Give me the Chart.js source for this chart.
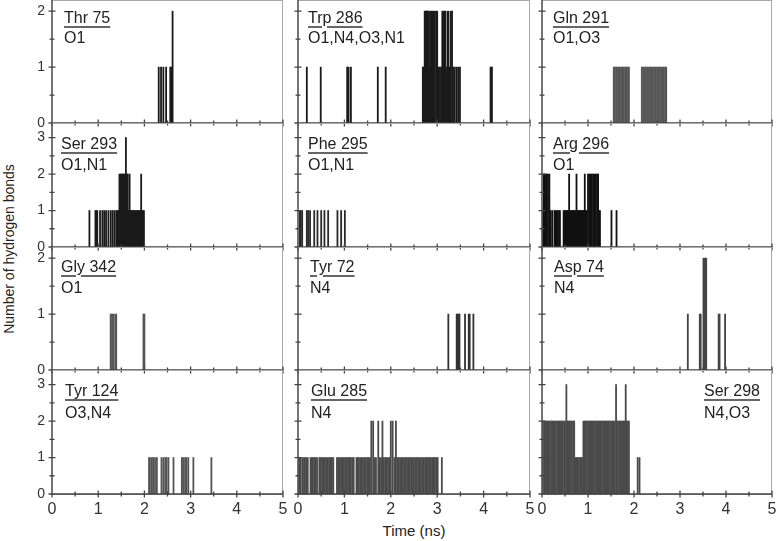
<!DOCTYPE html>
<html>
<head>
<meta charset="utf-8">
<script src="https://cdn.jsdelivr.net/npm/chart.js@4.4.1/dist/chart.umd.min.js"></script>
<style>
    body { margin: 0; background: #fff; width: 777px; height: 541px; position: relative; overflow: hidden;
           font-family: "Liberation Sans", Arial, sans-serif; color: #222; }
    canvas { position: absolute; }
    .lbl { position: absolute; font-size: 16px; line-height: 20px; white-space: nowrap; color: #222; }
    .lbl u { text-decoration-color: #666; text-decoration-thickness: 1.5px; text-underline-offset: 3px; }
    #ytitle { position: absolute; left: 9px; top: 249px; transform: translate(-50%, -50%) rotate(-90deg);
              font-size: 14px; white-space: nowrap; }
    #xtitle { position: absolute; left: 414px; top: 530px; transform: translate(-50%, -50%);
              font-size: 15px; white-space: nowrap; }
</style>
</head>
<body>
<div id="ytitle">Number of hydrogen bonds</div>
<div id="xtitle">Time (ns)</div>
<script>
// ===== DATA (times in ns at which the residue holds 1 / 2 / 3 H-bonds) =====
const timeTicks = [0, 1, 2, 3, 4, 5];

const thr75One = [2.31, 2.36, 2.41, 2.47, 2.56, 2.58];
const thr75Two = [2.61];

const trp286One = [0.19, 0.49, 1.06, 1.09, 1.14, 1.72, 1.89, 2.69, 2.71, 2.83, 2.88, 2.93, 3.03, 3.06, 3.09,
                   3.19, 3.26, 3.34, 3.37, 3.41, 3.45, 3.49, 4.15, 4.18];
const trp286Two = [2.73, 2.75, 2.76, 2.78, 2.80, 2.82, 2.85, 2.87, 2.90, 2.92, 2.95, 2.98, 3.00, 3.11, 3.13,
                   3.15, 3.17, 3.22, 3.24, 3.29, 3.32];

const gln291One = [1.56, 1.58, 1.61, 1.63, 1.66, 1.69, 1.72, 1.75, 1.78, 1.81, 1.84, 1.87, 1.89,
                   2.17, 2.20, 2.23, 2.26, 2.29, 2.32, 2.35, 2.38, 2.41, 2.44, 2.47, 2.50, 2.53, 2.56,
                   2.59, 2.62, 2.65, 2.68, 2.70];

const ser293One = [0.81, 0.94, 0.96, 0.98, 1.04, 1.09, 1.13, 1.17, 1.22, 1.27, 1.31, 1.35, 1.39, 1.42, 1.44,
                   1.66, 1.70, 1.72, 1.74, 1.76, 1.78, 1.80, 1.83, 1.85, 1.87, 1.89, 1.91, 1.95, 1.97, 1.99];
const ser293Two = [1.46, 1.49, 1.51, 1.53, 1.55, 1.57, 1.62, 1.64, 1.68, 1.93];
const ser293Three = [1.60];

const phe295One = [0.04, 0.06, 0.09, 0.19, 0.22, 0.26, 0.35, 0.42, 0.50, 0.57, 0.65, 0.85, 0.93, 1.01];

const arg296One = [0.02, 0.18, 0.22, 0.27, 0.29, 0.32, 0.34, 0.37, 0.39, 0.47, 0.49, 0.51, 0.53, 0.55, 0.57,
                   0.61, 0.63, 0.65, 0.67, 0.69, 0.71, 0.73, 0.77, 0.79, 0.81, 0.83, 0.85, 0.87, 0.89, 0.91,
                   0.95, 0.97, 1.24, 1.26, 1.51, 1.62];
const arg296Two = [0.04, 0.06, 0.08, 0.10, 0.13, 0.16, 0.59, 0.75, 0.93, 1.00, 1.03, 1.05, 1.08, 1.11, 1.14,
                   1.17, 1.20, 1.22];

const gly342One = [1.27, 1.30, 1.33, 1.37, 1.39, 1.98, 2.00];

const tyr72One = [3.24, 3.42, 3.44, 3.46, 3.48, 3.60, 3.68, 3.70, 3.78];

const asp74One = [3.17, 3.43, 3.45, 3.84, 3.86, 3.98];
const asp74Two = [3.51, 3.53, 3.55, 3.57];

const tyr124One = [2.10, 2.12, 2.16, 2.19, 2.23, 2.27, 2.37, 2.41, 2.45, 2.48, 2.52, 2.63, 2.81, 2.84, 2.88,
                   2.91, 2.95, 3.06, 3.45];

const glu285One = [0.01, 0.04, 0.06, 0.10, 0.13, 0.15, 0.18, 0.21, 0.27, 0.30, 0.32, 0.35, 0.38, 0.41, 0.46,
                   0.49, 0.52, 0.55, 0.58, 0.61, 0.64, 0.67, 0.70, 0.73, 0.76, 0.84, 0.87, 0.90, 0.93, 0.96,
                   0.99, 1.02, 1.05, 1.08, 1.11, 1.14, 1.17, 1.20, 1.26, 1.28, 1.31, 1.34, 1.37, 1.40, 1.43,
                   1.46, 1.49, 1.52, 1.55, 1.65, 1.68, 1.76, 1.79, 1.85, 1.88, 1.91, 1.94, 1.97, 2.08, 2.14,
                   2.17, 2.20, 2.23, 2.26, 2.29, 2.32, 2.35, 2.38, 2.41, 2.44, 2.47, 2.50, 2.53, 2.56, 2.59,
                   2.62, 2.65, 2.68, 2.71, 2.74, 2.77, 2.80, 2.83, 2.86, 2.89, 2.92, 2.95, 2.98, 3.01, 3.10];
const glu285Two = [1.58, 1.62, 1.73, 1.82, 2.00, 2.04, 2.11];

const ser298One = [0.73, 0.75, 0.78, 0.80, 0.83, 0.85, 0.87, 2.08, 2.12];
const ser298Two = [0.02, 0.05, 0.07, 0.10, 0.12, 0.15, 0.17, 0.20, 0.22, 0.25, 0.27, 0.30, 0.33, 0.35, 0.38,
                   0.40, 0.43, 0.45, 0.48, 0.50, 0.55, 0.58, 0.60, 0.63, 0.65, 0.68, 0.70, 0.90, 0.93, 0.95,
                   0.98, 1.00, 1.03, 1.05, 1.08, 1.10, 1.13, 1.15, 1.18, 1.20, 1.23, 1.25, 1.28, 1.30, 1.33,
                   1.35, 1.38, 1.40, 1.43, 1.45, 1.48, 1.50, 1.53, 1.55, 1.58, 1.63, 1.65, 1.68, 1.70, 1.73,
                   1.75, 1.78, 1.80, 1.84, 1.86, 1.89];
const ser298Three = [0.53, 1.61, 1.82];

// ===== LAYOUT =====
const colX = [[52, 283], [298, 530], [542, 772]];
const rowY = [[0, 123], [123, 247], [247, 370], [370, 494]];
const rowMax = [2.2, 3.4, 2.2, 3.4];
const titleBase = [23.5, 26, 25, 26.7];
const atomBase = [44, 47.5, 46.5, 48.5];
const M = { l: 45, t: 8, r: 8, b: 34 };

const panels = [
    { res: "Thr 75",  atoms: "O1",          row: 0, col: 0, dx: 12, ink: "#1a1a1a", hits: [thr75One, thr75Two] },
    { res: "Trp 286", atoms: "O1,N4,O3,N1", row: 0, col: 1, dx: 10, ink: "#1a1a1a", hits: [trp286One, trp286Two] },
    { res: "Gln 291", atoms: "O1,O3",       row: 0, col: 2, dx: 11, ink: "#555",    hits: [gln291One] },
    { res: "Ser 293", atoms: "O1,N1",       row: 1, col: 0, dx: 9,  ink: "#1a1a1a", hits: [ser293One, ser293Two, ser293Three] },
    { res: "Phe 295", atoms: "O1,N1",       row: 1, col: 1, dx: 10, ink: "#2a2a2a", hits: [phe295One] },
    { res: "Arg 296", atoms: "O1",          row: 1, col: 2, dx: 11, ink: "#111",    hits: [arg296One, arg296Two] },
    { res: "Gly 342", atoms: "O1",          row: 2, col: 0, dx: 9,  ink: "#555",    hits: [gly342One] },
    { res: "Tyr 72",  atoms: "N4",          row: 2, col: 1, dx: 12, ink: "#333",    hits: [tyr72One] },
    { res: "Asp 74",  atoms: "N4",          row: 2, col: 2, dx: 12, ink: "#444",    hits: [asp74One, asp74Two] },
    { res: "Tyr 124", atoms: "O3,N4",       row: 3, col: 0, dx: 13, ink: "#555",    hits: [tyr124One] },
    { res: "Glu 285", atoms: "N4",          row: 3, col: 1, dx: 13, ink: "#4a4a4a", hits: [glu285One, glu285Two] },
    { res: "Ser 298", atoms: "N4,O3",       row: 3, col: 2, dx: -12, ink: "#4a4a4a", hits: [ser298One, ser298Two, ser298Three], right: true }
];

// ===== AXES / FRAME =====
const panelAxes = {
    id: "panelAxes",
    afterDatasetsDraw(chart) {
        const { ctx, chartArea: a, scales: { x, y } } = chart;
        ctx.save();
        ctx.strokeStyle = "#a9a9a9";
        ctx.lineWidth = 1;
        ctx.strokeRect(a.left, a.top + 0.5, a.right - a.left - 0.5, a.bottom - a.top);

        ctx.strokeStyle = "#444";
        ctx.lineWidth = 1.3;
        ctx.beginPath();
        ctx.moveTo(a.left, a.top);
        ctx.lineTo(a.left, a.bottom);
        ctx.lineTo(a.right, a.bottom);
        for (let v = 0; v <= 5.001; v += 0.5) {
            const px = x.getPixelForValue(v);
            const len = Math.abs(v % 1) < 0.01 ? 3.5 : 2.5;
            ctx.moveTo(px, a.bottom - len);
            ctx.lineTo(px, a.bottom + len);
        }
        for (let v = 0; v <= y.max + 0.001; v += 0.5) {
            const py = y.getPixelForValue(v);
            const len = Math.abs(v % 1) < 0.01 ? 3.5 : 2.5;
            ctx.moveTo(a.left - len, py);
            ctx.lineTo(a.left + len, py);
        }
        ctx.stroke();
        ctx.restore();
    }
};

// ===== BUILD PANELS =====
panels.forEach(p => {
    const [x0, x1] = colX[p.col];
    const [y0, y1] = rowY[p.row];

    const cv = document.createElement("canvas");
    cv.width = (x1 - x0) + M.l + M.r;
    cv.height = (y1 - y0) + M.t + M.b;
    cv.style.left = (x0 - M.l) + "px";
    cv.style.top = (y0 - M.t) + "px";
    document.body.appendChild(cv);

    const points = [];
    p.hits.forEach((times, i) => times.forEach(t => points.push({ x: t, y: i + 1 })));

    new Chart(cv, {
        type: "bar",
        data: {
            datasets: [{
                data: points,
                backgroundColor: p.ink,
                borderWidth: 0,
                barThickness: 1.15
            }]
        },
        options: {
            responsive: false,
            animation: false,
            devicePixelRatio: 1,
            layout: { padding: { left: 0, top: M.t, right: M.r, bottom: 0 } },
            plugins: { legend: { display: false }, tooltip: { enabled: false } },
            scales: {
                x: {
                    type: "linear", min: 0, max: 5, offset: false,
                    grid: { display: false, drawTicks: false },
                    border: { display: false },
                    afterBuildTicks: s => { s.ticks = timeTicks.map(v => ({ value: v })); },
                    ticks: { display: p.row === 3, padding: 6, color: "#333",
                             font: { size: 16, family: "'Liberation Sans', Arial, sans-serif" } },
                    afterFit: s => { s.height = M.b; s.paddingLeft = 0; s.paddingRight = 0; }
                },
                y: {
                    min: 0, max: rowMax[p.row],
                    grid: { display: false, drawTicks: false },
                    border: { display: false },
                    ticks: { display: p.col === 0, stepSize: 1, includeBounds: false, padding: 7, color: "#333",
                             font: { size: 14, family: "'Liberation Sans', Arial, sans-serif" } },
                    afterFit: s => { s.width = M.l; s.paddingTop = 0; s.paddingBottom = 0; }
                }
            }
        },
        plugins: [panelAxes]
    });

    // residue label (underlined) and interacting atoms
    const lab = document.createElement("div");
    lab.className = "lbl";
    lab.innerHTML = "<u>" + p.res + "</u><br>" + p.atoms;
    lab.style.lineHeight = (atomBase[p.row] - titleBase[p.row]) + "px";
    const top = y0 + titleBase[p.row] - 15.5 - (atomBase[p.row] - titleBase[p.row] - 20) / 2;
    lab.style.top = top + "px";
    if (p.right) {
        lab.style.right = (777 - (x1 + p.dx)) + "px";
        lab.style.textAlign = "left";
    } else {
        lab.style.left = (x0 + p.dx) + "px";
    }
    document.body.appendChild(lab);
});
</script>
</body>
</html>
